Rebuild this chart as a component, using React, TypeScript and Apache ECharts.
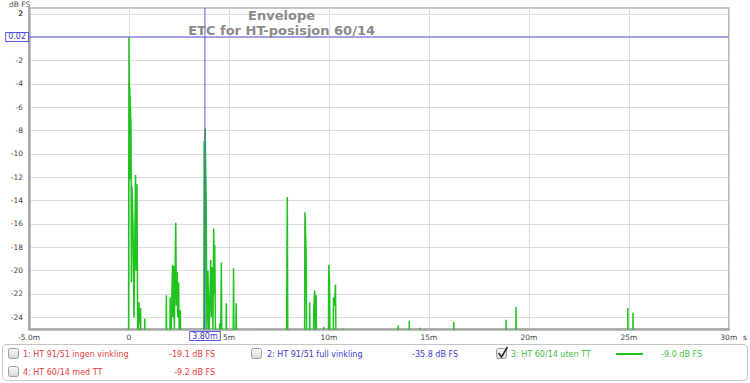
import React, { useEffect, useRef } from "react";
import * as echarts from "echarts";

// ---- data (time in ms, level in dB FS) ----
const chartTitle = "Envelope";
const chartSubtitle = "ETC for HT-posisjon 60/14";
const xTickValues = [-5, 0, 5, 10, 15, 20, 25, 30];
const yTickValues = [-24, -22, -20, -18, -16, -14, -12, -10, -8, -6, -4, -2, 0, 2];
const yRange = [-25, 2.5];
const cursorTimeMs = 3.8;
const cursorLevelDb = 0.02;

const directSound: [number, number][] = [
  [-5, -40], [-0.06, -40], [-0.02, -26], [0.0, 0.02], [0.01, -3.7], [0.02, -4.0],
  [0.03, -12.2], [0.04, -4.3], [0.05, -11], [0.06, -5], [0.07, -12.2], [0.08, -6],
  [0.09, -12], [0.1, -7], [0.11, -12.2], [0.12, -21], [0.15, -12.8], [0.2, -16],
  [0.25, -24], [0.33, -11.8], [0.36, -20], [0.4, -12.6], [0.45, -30], [0.5, -22.7],
  [0.53, -24.5], [0.58, -23.2], [0.62, -30], [0.77, -30], [0.79, -24.1], [0.82, -30],
];
const reflections2ms: [number, number][] = [
  [1.85, -30], [1.87, -22.1], [1.9, -30], [2.04, -30], [2.06, -22.3], [2.1, -26],
  [2.18, -19.5], [2.2, -24], [2.23, -19.6], [2.27, -25], [2.34, -15.9], [2.37, -23],
  [2.41, -20.1], [2.44, -24], [2.48, -21], [2.52, -26], [2.57, -23.4], [2.6, -30],
];
const reflections4ms: [number, number][] = [
  [3.74, -30], [3.76, -8.9], [3.79, -26], [3.81, -7.8], [3.83, -10.4], [3.86, -13.4],
  [3.9, -25], [3.95, -20], [4.0, -26], [4.09, -19.1], [4.12, -24], [4.16, -19.7],
  [4.2, -25], [4.24, -16.4], [4.27, -22], [4.29, -17.8], [4.33, -26], [4.45, -30],
  [4.54, -24.5], [4.57, -30], [4.62, -19.3], [4.66, -30], [4.84, -30], [4.87, -22.8],
  [4.9, -30], [5.2, -30], [5.23, -19.8], [5.27, -30], [5.33, -30], [5.36, -22.8], [5.4, -30],
];
const reflections9ms: [number, number][] = [
  [7.88, -30], [7.9, -19.1], [7.92, -13.7], [7.95, -30], [8.78, -30], [8.8, -15.0],
  [8.86, -18.3], [8.9, -30], [9.02, -30], [9.04, -22.7], [9.07, -30], [9.22, -30],
  [9.24, -23.4], [9.29, -21.7], [9.33, -26], [9.36, -22.1], [9.4, -30], [9.72, -30],
  [9.74, -24.8], [9.77, -30], [9.97, -30], [9.99, -19.5], [10.03, -20.9], [10.07, -30],
  [10.21, -30], [10.23, -22.3], [10.28, -23], [10.33, -21.2], [10.37, -30], [10.71, -30],
  [10.73, -24.95], [10.76, -30],
];
const lateReflections: [number, number][] = [
  [13.45, -30], [13.47, -24.7], [13.5, -30], [14.0, -30], [14.02, -24.3], [14.05, -30],
  [14.55, -30], [14.57, -24.9], [14.6, -30], [16.23, -30], [16.25, -24.4], [16.28, -30],
  [18.84, -30], [18.86, -24.2], [18.89, -30], [19.34, -30], [19.36, -23.1], [19.39, -30],
  [24.93, -30], [24.95, -23.2], [24.98, -30], [25.19, -30], [25.21, -23.6], [25.24, -30],
  [30, -40],
];

const legendNames = ["1: HT 91/51 ingen vinkling", "2: HT 91/51 full vinkling", "3: HT 60/14 uten TT", "4: HT 60/14 med TT"];
const legendLevels = ["-19.1 dB FS", "-35.8 dB FS", "-9.0 dB FS", "-9.2 dB FS"];
const legendColors = ["#e8403a", "#3c3cd4", "#3fbf3f", "#e8403a"];

const GREEN = "#1ec31e";
const CURSOR = "#5a5ae6";
const FONT = "DejaVu Sans";

export default function App() {
  const ref = useRef<HTMLDivElement>(null);
  useEffect(() => {
    if (!ref.current) return;
    const chart = echarts.init(ref.current, null, { renderer: "svg" });
    const envelope = [
      ...directSound,
      ...reflections2ms,
      ...reflections4ms,
      ...reflections9ms,
      ...lateReflections,
    ];
    const xMin = xTickValues[0];
    const xMax = xTickValues[xTickValues.length - 1];

    const checkbox = (x: number, y: number) => ({
      type: "rect",
      shape: { x, y, width: 10, height: 10, r: 2 },
      style: {
        fill: new echarts.graphic.LinearGradient(0, 0, 0, 1, [
          { offset: 0, color: "#fbfbfb" },
          { offset: 1, color: "#d8d8d8" },
        ]),
        stroke: "#9c9c9c",
        lineWidth: 1,
      },
    });
    const rowY = [354, 372];
    const cols = [
      { box: 8, text: 23, val: 215 },
      { box: 251, text: 267, val: 458 },
      { box: 496, text: 511, val: 702 },
    ];
    const entries = [
      { col: 0, row: 0, i: 0 },
      { col: 1, row: 0, i: 1 },
      { col: 2, row: 0, i: 2 },
      { col: 0, row: 1, i: 3 },
    ];
    const legendGraphics: any[] = [
      {
        type: "rect",
        shape: { x: 2.5, y: 344.5, width: 745, height: 36, r: 4 },
        style: { fill: "#fff", stroke: "#c4c4c4", lineWidth: 1 },
        z: 0,
      },
    ];
    entries.forEach((e) => {
      const c = cols[e.col];
      const y = rowY[e.row];
      legendGraphics.push(checkbox(c.box + 0.5, y - 5.5));
      legendGraphics.push({
        type: "text",
        x: c.text,
        y,
        style: { text: legendNames[e.i], fill: legendColors[e.i], font: `8px '${FONT}'`, textVerticalAlign: "middle", textAlign: "left" },
      });
      legendGraphics.push({
        type: "text",
        x: c.val,
        y,
        style: { text: legendLevels[e.i], fill: legendColors[e.i], font: `8px '${FONT}'`, textVerticalAlign: "middle", textAlign: "right" },
      });
    });
    legendGraphics.push({
      type: "polyline",
      shape: { points: [[498.5, 353], [501.5, 357], [507.5, 347]] },
      style: { stroke: "#222", lineWidth: 1.5, fill: "none" },
    });
    legendGraphics.push({
      type: "line",
      shape: { x1: 616, y1: 354, x2: 643, y2: 354 },
      style: { stroke: GREEN, lineWidth: 2 },
    });
    legendGraphics.push({
      type: "text",
      x: 9,
      y: 0,
      style: { text: "dB FS", fill: "#555", font: `7.5px '${FONT}'`, textAlign: "left", textVerticalAlign: "top" },
    });

    const labelStyle = {
      show: true,
      position: "start",
      color: "#3a3ad0",
      opacity: 1,
      fontFamily: FONT,
      fontSize: 8,
      backgroundColor: "#fff",
      borderColor: CURSOR,
      borderWidth: 1,
      padding: [0, 2, 0, 2],
    };
    const hiddenLine = { color: "rgba(0,0,0,0)", width: 1, type: "solid" };

    chart.setOption({
      animation: false,
      backgroundColor: "#fff",
      title: {
        text: `${chartTitle}\n${chartSubtitle}`,
        left: "center",
        top: 8,
        padding: 0,
        textAlign: "center",
        textStyle: { fontFamily: FONT, fontSize: 13, fontWeight: "bold", color: "#8a8a8a", lineHeight: 15 },
      },
      grid: { left: 29, right: 14, top: 8, bottom: 54, show: true, borderColor: "#b4b4b4", borderWidth: 1.5, containLabel: false },
      xAxis: {
        type: "value",
        min: xMin,
        max: xMax,
        interval: 5,
        name: "s",
        nameLocation: "end",
        nameGap: 10,
        nameTextStyle: { fontFamily: FONT, fontSize: 7.5, color: "#444", verticalAlign: "top", padding: [4, 0, 0, 0] },
        axisLine: { show: true, onZero: false, lineStyle: { color: "#a8a8a8", width: 2.5 } },
        axisTick: { show: false },
        axisLabel: {
          fontFamily: FONT,
          fontSize: 7.5,
          color: "#444",
          margin: 4,
          formatter: (v: number) => (v === -5 ? "-5.0m" : v === 0 ? "0" : `${v}m`),
        },
        splitLine: { show: true, lineStyle: { color: "#dcdcdc", width: 1 } },
      },
      yAxis: {
        type: "value",
        min: yRange[0],
        max: yRange[1],
        splitNumber: 14,
        axisLine: { show: true, onZero: false, lineStyle: { color: "#a8a8a8", width: 2.5 } },
        axisTick: { show: false, customValues: yTickValues },
        axisLabel: {
          fontFamily: FONT,
          fontSize: 7.5,
          color: "#444",
          margin: 6,
          customValues: yTickValues,
          hideOverlap: false,
          showMinLabel: true,
          showMaxLabel: true,
          formatter: (v: number) => (v === 0 ? "" : `${v}`),
        },
        splitLine: { show: true, lineStyle: { color: "#dcdcdc", width: 1 } },
      },
      graphic: legendGraphics,
      series: [
        {
          name: legendNames[2],
          type: "line",
          data: envelope,
          showSymbol: false,
          symbol: "none",
          clip: true,
          lineStyle: { color: GREEN, width: 1.5 },
          itemStyle: { color: GREEN },
          z: 3,
        },
        {
          name: "cursorTime",
          type: "line",
          data: [[cursorTimeMs, yRange[0]], [cursorTimeMs, yRange[1]]],
          showSymbol: false,
          symbol: "none",
          lineStyle: { color: CURSOR, width: 1 },
          z: 5,
          markLine: {
            silent: true,
            symbol: ["none", "none"],
            lineStyle: hiddenLine,
            data: [{ xAxis: cursorTimeMs, lineStyle: hiddenLine, label: { ...labelStyle, distance: 3, formatter: cursorTimeMs.toFixed(2) + "m" } }],
          },
        },
        {
          name: "cursorLevel",
          type: "line",
          data: [[xMin, cursorLevelDb], [xMax, cursorLevelDb]],
          showSymbol: false,
          symbol: "none",
          lineStyle: { color: CURSOR, width: 1 },
          z: 5,
          markLine: {
            silent: true,
            symbol: ["none", "none"],
            lineStyle: hiddenLine,
            data: [{ yAxis: cursorLevelDb, lineStyle: hiddenLine, label: { ...labelStyle, distance: 1, formatter: cursorLevelDb.toFixed(2) } }],
          },
        },
      ],
    });

    // top tick label ("2") placed through the axis scale, as the axis hides it next to the extent
    const topTick = yTickValues[yTickValues.length - 1];
    const p = chart.convertToPixel({ gridIndex: 0 }, [xMin, topTick]) as number[];
    if (p && isFinite(p[0]) && isFinite(p[1])) {
      chart.setOption({
        graphic: [
          ...legendGraphics,
          {
            type: "text",
            x: p[0] - 6,
            y: p[1],
            style: { text: `${topTick}`, fill: "#444", font: `7.5px '${FONT}'`, textAlign: "right", textVerticalAlign: "middle" },
          },
        ],
      });
    }
    return () => chart.dispose();
  }, []);
  return <div ref={ref} style={{ position: "fixed", left: 0, top: 0, width: 750, height: 383 }} />;
}
